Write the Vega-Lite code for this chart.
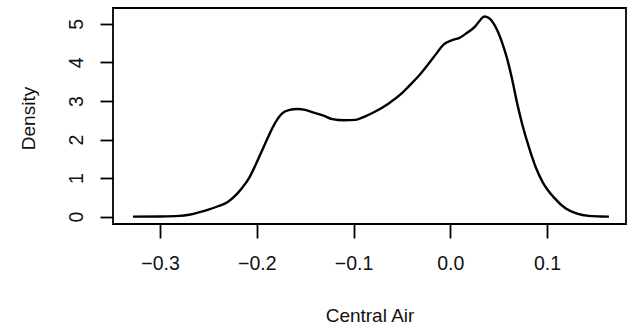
{
  "$schema": "https://vega.github.io/schema/vega-lite/v6.json",
  "width": 513,
  "height": 216,
  "autosize": {"type": "none"},
  "padding": {"left": 113, "top": 8, "right": 7, "bottom": 107},
  "background": "white",
  "config": {
    "view": {"stroke": "black", "strokeWidth": 1.8},
    "font": "Liberation Sans",
    "axis": {
      "labelFont": "Liberation Sans",
      "titleFont": "Liberation Sans",
      "labelFontSize": 19.5,
      "titleFontSize": 19,
      "labelColor": "#111",
      "titleColor": "#111",
      "titleFontWeight": "normal",
      "tickColor": "black",
      "tickWidth": 1.8,
      "domain": false,
      "grid": false
    }
  },
  "data": {
    "values": [
      {"x": -0.328, "d": 0.0},
      {"x": -0.3, "d": 0.005},
      {"x": -0.28, "d": 0.02},
      {"x": -0.27, "d": 0.05},
      {"x": -0.26, "d": 0.11},
      {"x": -0.25, "d": 0.18},
      {"x": -0.24, "d": 0.27},
      {"x": -0.23, "d": 0.38},
      {"x": -0.222, "d": 0.55},
      {"x": -0.215, "d": 0.75},
      {"x": -0.208, "d": 1.0},
      {"x": -0.202, "d": 1.3},
      {"x": -0.195, "d": 1.69},
      {"x": -0.188, "d": 2.08},
      {"x": -0.181, "d": 2.43},
      {"x": -0.174, "d": 2.67},
      {"x": -0.167, "d": 2.76},
      {"x": -0.158, "d": 2.79},
      {"x": -0.15, "d": 2.77},
      {"x": -0.14, "d": 2.69},
      {"x": -0.131, "d": 2.62},
      {"x": -0.122, "d": 2.53},
      {"x": -0.11, "d": 2.5},
      {"x": -0.098, "d": 2.51},
      {"x": -0.088, "d": 2.6},
      {"x": -0.078, "d": 2.72},
      {"x": -0.064, "d": 2.93},
      {"x": -0.05, "d": 3.2},
      {"x": -0.043, "d": 3.38},
      {"x": -0.033, "d": 3.64},
      {"x": -0.022, "d": 3.98},
      {"x": -0.014, "d": 4.24},
      {"x": -0.007, "d": 4.46},
      {"x": 0.002, "d": 4.58},
      {"x": 0.009, "d": 4.63},
      {"x": 0.017, "d": 4.76},
      {"x": 0.026, "d": 4.94},
      {"x": 0.031, "d": 5.1},
      {"x": 0.035, "d": 5.19},
      {"x": 0.04, "d": 5.15},
      {"x": 0.045, "d": 5.0},
      {"x": 0.05, "d": 4.75},
      {"x": 0.054, "d": 4.48},
      {"x": 0.059, "d": 4.07},
      {"x": 0.064, "d": 3.55},
      {"x": 0.069, "d": 2.95},
      {"x": 0.074, "d": 2.43},
      {"x": 0.081, "d": 1.82},
      {"x": 0.088, "d": 1.3},
      {"x": 0.096, "d": 0.87},
      {"x": 0.107, "d": 0.5},
      {"x": 0.119, "d": 0.22},
      {"x": 0.131, "d": 0.08},
      {"x": 0.143, "d": 0.02},
      {"x": 0.155, "d": 0.005},
      {"x": 0.164, "d": 0.0}
    ]
  },
  "mark": {"type": "line", "color": "black", "strokeWidth": 2.4, "interpolate": "monotone", "clip": true},
  "encoding": {
    "x": {
      "field": "x",
      "type": "quantitative",
      "scale": {"domain": [-0.3486, 0.1816], "nice": false, "zero": false},
      "axis": {
        "values": [-0.3, -0.2, -0.1, 0.0, 0.1],
        "format": ".1f",
        "tickSize": 14,
        "labelPadding": 16,
        "labelFlush": false,
        "title": "Central Air",
        "titleX": 256.5,
        "titleY": 97,
        "titleBaseline": "alphabetic",
        "titleAnchor": "middle",
        "titleAlign": "center"
      }
    },
    "y": {
      "field": "d",
      "type": "quantitative",
      "scale": {"domain": [-0.19, 5.41], "nice": false, "zero": false},
      "axis": {
        "values": [0, 1, 2, 3, 4, 5],
        "format": "d",
        "tickSize": 13,
        "labelAngle": -90,
        "labelPadding": 14,
        "labelFlush": false,
        "title": "Density",
        "titleX": -79,
        "titleY": 110,
        "titleAngle": -90,
        "titleBaseline": "alphabetic",
        "titleAlign": "center"
      }
    }
  }
}
